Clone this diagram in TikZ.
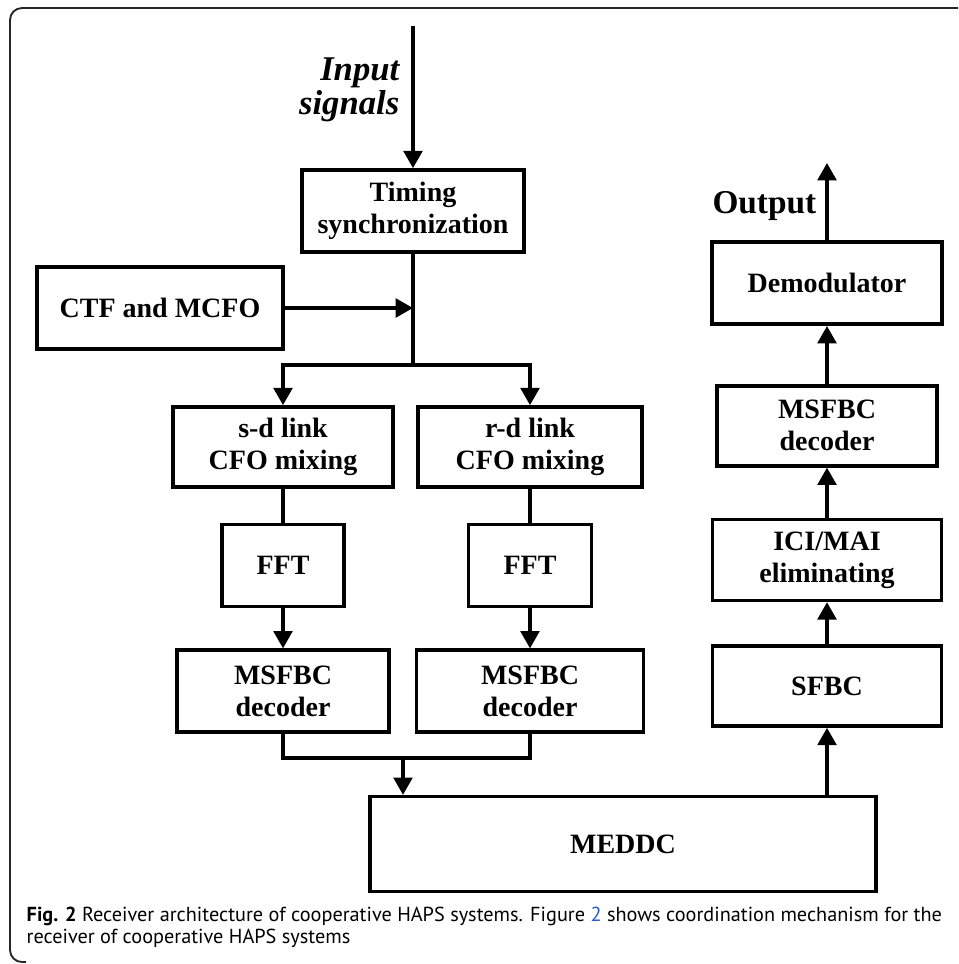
\documentclass[tikz,border=0pt]{standalone}
\usepackage{fontspec}
\setmainfont{Liberation Serif}
\newfontfamily\capfont{PT Sans}
\usetikzlibrary{positioning, arrows.meta}
\definecolor{linkblue}{RGB}{40,90,210}
\tikzset{
    block/.style={draw, line width=2.7pt, align=center, inner sep=2pt, font=\bfseries\fontsize{21}{24}\selectfont},
}

\begin{document}
\begin{tikzpicture}[x=0.75pt, y=-0.75pt, line width=2.6pt, >={Triangle[length=13pt, width=14pt]}]
    \useasboundingbox (0,0) rectangle (958,964);
    % frame
    \draw[line width=1.4pt, rounded corners=9pt, black!85] (958,8) -- (10,8) -- (10,962) -- (26,962);

    \node[block, minimum width=166.5pt, minimum height=61.5pt] (timing) at (413,211) {Timing\\synchronization};
    \node[block, minimum width=184.5pt, minimum height=61.5pt] (ctf) at (160,308) {CTF and MCFO};
    \node[block, minimum width=165pt, minimum height=60pt] (sd_link) at (283,447) {s-d link\\CFO mixing};
    \node[block, minimum width=168pt, minimum height=60pt] (rd_link) at (530,447) {r-d link\\CFO mixing};
    \node[block, minimum width=91.5pt, minimum height=61.5pt, below=25.5pt of sd_link] (fft_1) {FFT};
    \node[block, minimum width=92pt, minimum height=61.5pt, below=25.5pt of rd_link] (fft_2) {FFT};
    \node[block, minimum width=159pt, minimum height=61.5pt, below=30pt of fft_1] (msfbc_1) {MSFBC\\decoder};
    \node[block, minimum width=170pt, minimum height=61.5pt, below=30pt of fft_2] (msfbc_2) {MSFBC\\decoder};
    \node[block, minimum width=379.5pt, minimum height=71pt] (meddc) at (623,844) {MEDDC};

    \node[block, minimum width=171.75pt, minimum height=60pt] (sfbc) at (827,686) {SFBC};
    \node[block, minimum width=171.75pt, minimum height=60.75pt, above=31.5pt of sfbc] (ici) {ICI/MAI\\eliminating};
    \node[block, minimum width=165pt, minimum height=60pt, above=37.5pt of ici] (msfbc_3) {MSFBC\\decoder};
    \node[block, minimum width=172.5pt, minimum height=61.5pt, above=43.5pt of msfbc_3] (demod) {Demodulator};

    \node[anchor=east, align=right, inner sep=0pt, font=\bfseries\itshape\fontsize{26}{25}\selectfont] (input_label) at (401,90) {Input\\signals};
    \node[anchor=base east, inner sep=0pt, font=\bfseries\fontsize{25}{25}\selectfont] (output_label) at (818,213) {Output};

    \node[anchor=north west, align=left, inner sep=0pt, font=\capfont\fontsize{15.2}{16.5}\selectfont] (caption) at (25,905)
        {\textbf{Fig. 2} Receiver architecture of cooperative HAPS systems. Figure \textcolor{linkblue}{2} shows coordination mechanism for the\\receiver of cooperative HAPS systems};

    % dot
    \coordinate (in_top) at (413,26);
    \coordinate (out_top) at (827,163);
    \coordinate (dot_1) at (413,365);
    \coordinate (dot_2) at (403,758);

    \draw[->] (in_top) -- (timing);
    \draw[->] (ctf) -- (ctf -| timing);
    \draw (timing) -- (dot_1);
    \draw[->] (dot_1) -| (sd_link);
    \draw[->] (dot_1) -| (rd_link);
    \draw (sd_link) -- (fft_1);
    \draw (rd_link) -- (fft_2);
    \draw[->] (fft_1) -- (msfbc_1);
    \draw[->] (fft_2) -- (msfbc_2);
    \draw (msfbc_1) |- (dot_2) -| (msfbc_2);
    \draw[->] (dot_2) -- (dot_2 |- meddc.north);

    \draw[->] (sfbc |- meddc.north) -- (sfbc);
    \draw[->] (sfbc) -- (ici);
    \draw[->] (ici) -- (msfbc_3);
    \draw[->] (msfbc_3) -- (demod);
    \draw[->] (demod) -- (out_top);
\end{tikzpicture}
\end{document}
